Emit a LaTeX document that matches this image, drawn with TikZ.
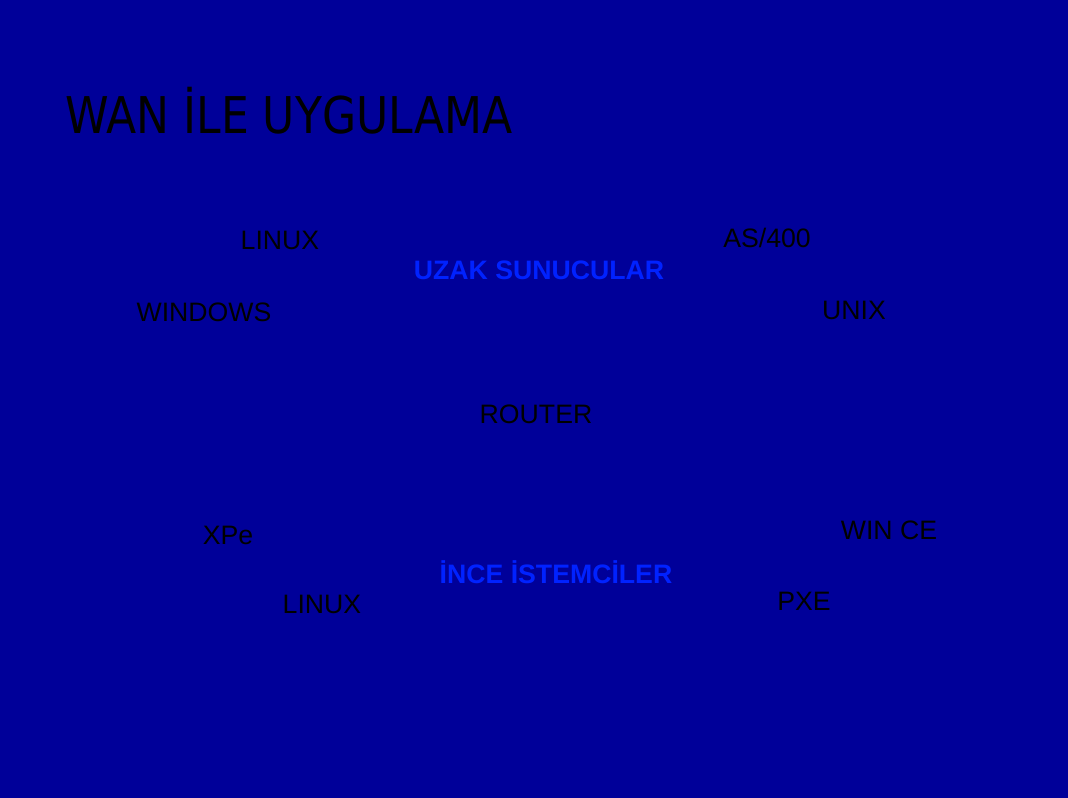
\documentclass[tikz,border=0pt]{standalone}
\usepackage{fontspec}
\setmainfont{Liberation Sans}
\newfontfamily\titlefont{DejaVu Sans}
\usetikzlibrary{positioning}
\definecolor{slideblue}{HTML}{000099}
\definecolor{labelblue}{HTML}{0022FF}

\begin{document}
\begin{tikzpicture}[x=0.75pt,y=-0.75pt,
		os/.style={anchor=base, text=black, font=\fontsize{20}{24}\selectfont, inner sep=0pt},
		group/.style={anchor=base, text=labelblue, font=\fontsize{20}{24}\selectfont\bfseries, inner sep=0pt}]
			% Slide background
			\fill[slideblue] (0,0) rectangle (1068,798);
			\node[anchor=base west, inner sep=0pt, xscale=0.87, font=\titlefont\fontsize{38}{44}\selectfont] (title) at (65,134) {WAN İLE UYGULAMA};
			
			% Remote servers
			\node[group] (servers) at (539,280) {UZAK SUNUCULAR};
			\node[os] (srvlinux) at (280,250) {LINUX};
			\node[os] (srvwindows) at (204,322) {WINDOWS};
			\node[os] (srvas) at (767,248) {AS/400};
			\node[os] (srvunix) at (854,320) {UNIX};
			
			% Router
			\node[os] (router) at (536,424) {ROUTER};
			
			% Thin clients
			\node[group] (clients) at (556,584) {İNCE İSTEMCİLER};
			\node[os] (clxpe) at (228,545) {XPe};
			\node[os] (cllinux) at (322,614) {LINUX};
			\node[os] (clwince) at (889,540) {WIN CE};
			\node[os] (clpxe) at (804,610) {PXE};
		\end{tikzpicture}
\end{document}
